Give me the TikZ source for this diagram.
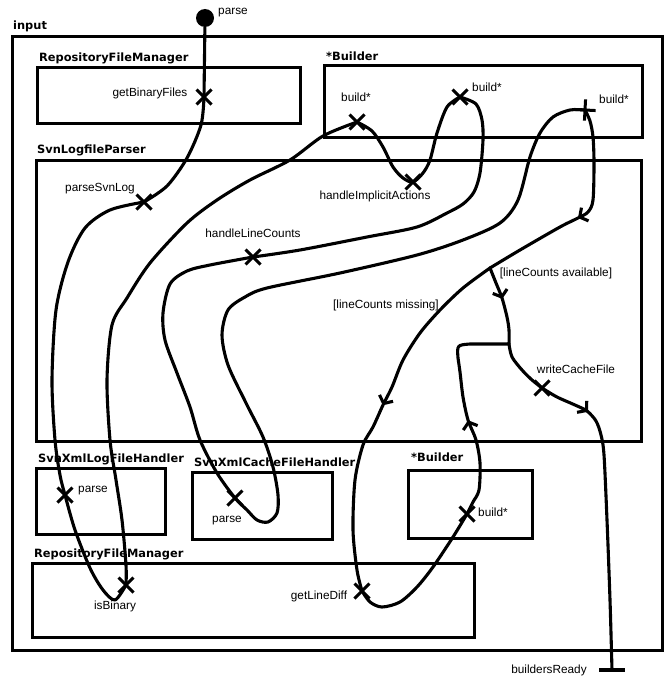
\documentclass[tikz,border=0pt]{standalone}
\usepackage{fontspec}
\setmainfont{Liberation Sans}
\newfontfamily\ttlfont{DejaVu Sans}
\usetikzlibrary{shapes.misc,decorations.markings,arrows.meta}
\begin{document}
\begin{tikzpicture}[x=1pt,y=-1pt,
  comp/.style={draw,line width=3pt},
  ttl/.style={anchor=base west,inner sep=0pt,font=\ttlfont\bfseries\fontsize{11.4}{13}\selectfont},
  lbl/.style={inner sep=0pt,font=\fontsize{11.8}{13}\selectfont},
  resp/.style={cross out,draw,line width=3pt,minimum size=12pt,inner sep=0pt},
  ucm/.style={line width=3.1pt,line cap=round,line join=round},
  arrowat/.style={postaction={decorate},decoration={markings,mark=at position #1 with {\arrow{Straight Barb[length=6pt,width=15pt]}}}}
]
\useasboundingbox (0,0) rectangle (665,677);
% components
\draw[comp] (12,37) rectangle (662,650);
\node[ttl] (tinput) at (13,30) {input};
\draw[comp] (37,68) rectangle (300,123);
\node[ttl] (trfm1) at (39,62) {RepositoryFileManager};
\draw[comp] (324,66) rectangle (642,137);
\node[ttl] (tb1) at (326,60) {*Builder};
\draw[comp] (36,160) rectangle (641,441);
\node[ttl] (tslp) at (37,153) {SvnLogfileParser};
\draw[comp] (36,468) rectangle (165,534);
\node[ttl] (tlog) at (38,462) {SvnXmlLogFileHandler};
\draw[comp] (192,472) rectangle (332,539);
\node[ttl] (tcache) at (194,466) {SvnXmlCacheFileHandler};
\draw[comp] (408,470) rectangle (532,538);
\node[ttl] (tb2) at (411,461) {*Builder};
\draw[comp] (32,563) rectangle (474,637);
\node[ttl] (trfm2) at (34,557) {RepositoryFileManager};
% start, responsibilities, points
\node[circle,fill,minimum size=18pt,inner sep=0pt] (start) at (205,18) {};
\node[resp] (gbf) at (204,97) {};
\node[resp] (psl) at (144,202) {};
\node[resp] (plog) at (65,495) {};
\node[resp] (isb) at (126,585) {};
\node[resp] (b1) at (357,122) {};
\node[resp] (hia) at (413,182) {};
\node[resp] (b2) at (460,97) {};
\node[resp] (hlc) at (253,257) {};
\node[resp] (pcache) at (235,498) {};
\node[resp,rotate=42] (b3) at (585,110) {};
\node[resp] (gld) at (362,591) {};
\node[resp] (bld) at (467,514) {};
\node[resp] (wcf) at (542,388) {};
\coordinate (fork) at (490,268);
\coordinate (join) at (509,344);
\coordinate (endp) at (612,670);
% path
\draw[ucm] (start) -- (gbf.center);
\draw[ucm] plot[smooth] coordinates {(gbf.center) (201,125) (187,158) (167,186) (psl.center)};
\draw[ucm] plot[smooth] coordinates {(psl.center) (110,210) (85,228) (68,262) (56,310) (52,380) (55,440) (60,475) (plog.center) (75,530) (90,568) (103,590) (115,600) (isb.center)};
\draw[ucm] plot[smooth] coordinates {(isb.center) (126,565) (122,520) (116,480) (110,440) (107,380) (112,325) (127,298) (150,263) (187,223) (217,200) (250,180) (290,160) (323,136) (b1.center)};
\draw[ucm] plot[smooth] coordinates {(b1.center) (372,131) (383,147) (393,167) (403,178) (hia.center) (423,173) (430,160) (437,133) (447,107) (b2.center)};
\draw[ucm] plot[smooth] coordinates {(b2.center) (476,104) (482,120) (483,140) (480,173) (474,192) (463,204) (447,213) (417,227) (367,237) (300,250) (hlc.center)};
\draw[ucm] plot[smooth] coordinates {(hlc.center) (210,265) (187,271) (170,284) (163,313) (165,340) (177,373) (190,407) (200,440) (217,473) (pcache.center) (247,510) (257,520) (268,522) (277,513) (278,495) (273,467) (263,437) (246,403) (228,365) (222,335) (228,310) (245,297) (267,288) (340,273) (417,255) (463,240) (500,223) (518,200) (530,157) (540,133) (553,117) (570,110) (b3.center)};
\draw[ucm,arrowat=0.535] plot[smooth] coordinates {(b3.center) (590,121) (593,137) (594,163) (593,200) (588,212) (578,218) (560,227) (520,250) (fork)};
\draw[ucm,arrowat=0.42] plot[smooth] coordinates {(fork) (496,283) (502,298) (507,317) (509,330) (join)};
\draw[ucm,arrowat=0.48] plot[smooth] coordinates {(fork) (463,288) (440,310) (420,333) (403,360) (392,387) (383,405) (373,427) (363,445) (355,480) (353,530) (357,570) (gld.center)};
\draw[ucm] plot[smooth] coordinates {(gld.center) (370,602) (382,607) (400,602) (417,587) (433,567) (453,537) (bld.center)};
\draw[ucm,arrowat=0.44] plot[smooth] coordinates {(bld.center) (473,502) (479,490) (480,463) (476,440) (468,420) (463,397) (460,372) (458,358)} .. controls (457,345) .. (470,344) -- (join);
\draw[ucm] plot[smooth] coordinates {(join) (512,357) (522,370) (532,380) (wcf.center)};
\draw[ucm,arrowat=0.165] plot[smooth] coordinates {(wcf.center) (557,397) (575,405) (587,411) (596,421) (601,435) (604,455) (607,520) (610,600) (endp)};
\draw[line width=3.2pt] ([xshift=-13pt]endp) -- ([xshift=13pt]endp);
% labels
\node[lbl] (lstart) at (233,13) {parse};
\node[lbl] (lgbf) at (150,93) {getBinaryFiles};
\node[lbl] (lpsl) at (100,189) {parseSvnLog};
\node[lbl] (lb1) at (356,97) {build*};
\node[lbl] (lb2) at (487,87) {build*};
\node[lbl] (lb3) at (614,99) {build*};
\node[lbl] (lhia) at (375,196) {handleImplicitActions};
\node[lbl] (lhlc) at (253,233) {handleLineCounts};
\node[lbl] (lavail) at (556,273) {[lineCounts available]};
\node[lbl] (lmiss) at (386,305) {[lineCounts missing]};
\node[lbl] (lwcf) at (576,369) {writeCacheFile};
\node[lbl] (lplog) at (93,491) {parse};
\node[lbl] (lpcache) at (227,521) {parse};
\node[lbl] (lbld) at (493,512) {build*};
\node[lbl] (lisb) at (115,606) {isBinary};
\node[lbl] (lgld) at (319,596) {getLineDiff};
\node[lbl] (lend) at (549,670) {buildersReady};
\end{tikzpicture}
\end{document}
